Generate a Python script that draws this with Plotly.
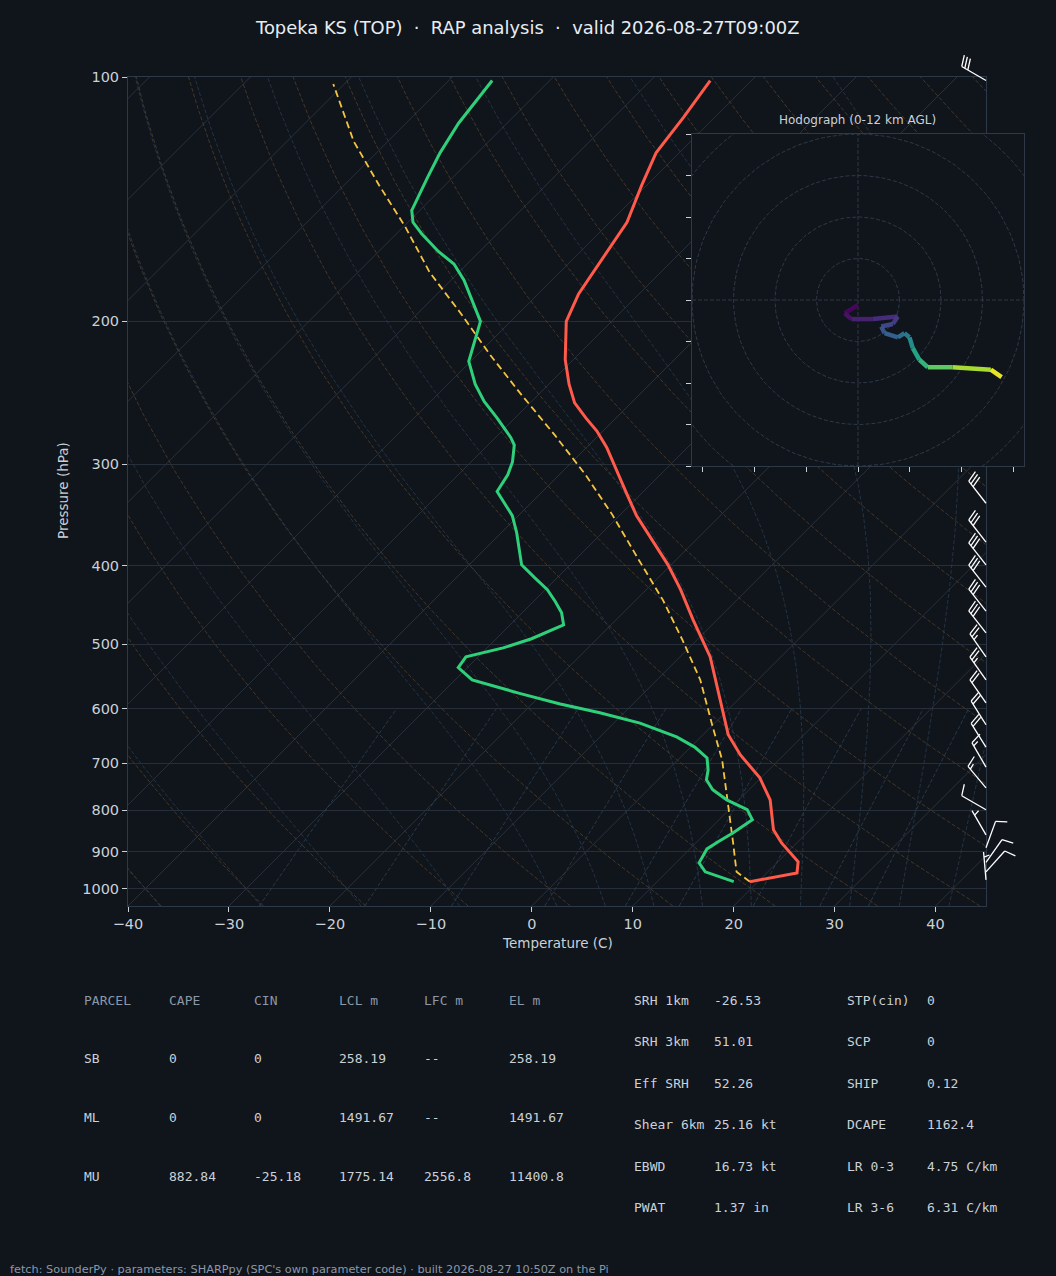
import numpy as np
import plotly.graph_objects as go
from plotly.colors import sample_colorscale

# ---------------- data ----------------
TEMP_P = [980, 956, 926, 878, 846, 777, 730, 684, 646, 569, 518, 466, 428, 399, 372, 347, 325,
          305, 286, 273, 263, 252, 239, 223, 200, 185, 172, 162, 151, 136, 124, 112, 101]
TEMP_C = [19.2, 23.0, 22.0, 18.5, 16.4, 13.1, 9.9, 5.7, 2.5, -3.0, -7.0, -12.4, -16.6, -20.3, -24.3,
          -28.3, -31.6, -34.8, -38.0, -40.6, -43.0, -45.6, -48.0, -50.8, -54.5, -56.0, -56.8, -57.5,
          -58.3, -60.5, -62.3, -63.1, -64.1]

DEW_P = [980, 953, 929, 913, 893, 875, 853, 822, 799, 777, 755, 734, 714, 690, 669, 650, 625, 607,
         592, 574, 553, 534, 518, 505, 492, 473, 457, 443, 428, 414, 399, 364, 347, 324, 309, 298,
         284, 278, 263, 251, 239, 224, 211, 200, 178, 170, 164, 156, 151, 146, 133, 124, 114, 101]
DEW_C = [17.6, 13.8, 12.3, 12.0, 11.7, 12.1, 12.7, 13.3, 11.8, 8.8, 6.4, 4.8, 4.0, 2.7, 0.4, -2.4,
         -7.4, -12.4, -17.2, -22.4, -28.3, -30.9, -31.2, -28.4, -26.5, -24.7, -26.1, -27.8, -29.8,
         -32.2, -34.8, -38.5, -40.6, -44.5, -45.1, -45.9, -47.4, -48.5, -51.8, -54.7, -57.3, -60.2,
         -61.7, -63.0, -68.7, -71.3, -74.1, -77.5, -79.5, -80.8, -82.5, -83.7, -84.8, -85.7]

PARCEL_P = [980, 953, 878, 777, 694, 632, 553, 494, 441, 394, 346, 309, 276, 245, 220, 195, 174,
            153, 136, 120, 102]
PARCEL_C = [19.2, 16.9, 13.7, 8.9, 4.4, 0.2, -5.7, -11.4, -17.3, -23.6, -30.8, -37.4, -44.4, -52.0,
            -58.7, -65.9, -72.9, -79.8, -86.5, -93.4, -101.1]

HODO_Z = [0, 0.4, 0.8, 1.3, 1.8, 2.3, 2.8, 3.3, 4.0, 4.5, 5.0, 6.6, 7.4, 8.4, 9.6, 11.2, 12.0]
HODO_U = [0, -3.2, -1.6, 3.6, 9.6, 8.4, 5.6, 6.4, 9.6, 11.2, 12.4, 13.2, 14.8, 16.8, 22.8, 32.0, 34.6]
HODO_V = [-1.2, -3.2, -4.6, -4.6, -4.0, -5.8, -6.4, -8.0, -9.0, -8.0, -9.0, -11.6, -14.4, -16.2,
          -16.2, -16.8, -18.6]

BARB_P = [101, 335, 374, 399, 425, 455, 484, 518, 553, 590, 628, 669, 708, 751, 799, 858, 890, 928, 953, 975]
BARB_DIR = [300, 322, 322, 322, 322, 322, 322, 325, 325, 325, 328, 328, 330, 320, 300, 330, 20, 35, 42, 355]
BARB_SPD = [30, 30, 30, 30, 30, 30, 30, 25, 25, 20, 20, 20, 15, 15, 10, 5, 10, 10, 10, 5]

X_TICKS = [-40, -30, -20, -10, 0, 10, 20, 30, 40]
P_TICKS = [100, 200, 300, 400, 500, 600, 700, 800, 900, 1000]

TITLE = "Topeka KS (TOP) \u00a0\u00b7\u00a0 RAP analysis \u00a0\u00b7\u00a0 valid 2026-08-27T09:00Z"
HODO_TITLE = "Hodograph (0-12 km AGL)"
FOOTER = "fetch: SounderPy \u00b7 parameters: SHARPpy (SPC's own parameter code) \u00b7 built 2026-08-27 10:50Z on the Pi"

PARCEL_HEAD = ["PARCEL", "CAPE", "CIN", "LCL m", "LFC m", "EL m"]
PARCEL_ROWS = [["SB", "0", "0", "258.19", "--", "258.19"],
               ["ML", "0", "0", "1491.67", "--", "1491.67"],
               ["MU", "882.84", "-25.18", "1775.14", "2556.8", "11400.8"]]
PARAM_L_NAMES = ["SRH 1km", "SRH 3km", "Eff SRH", "Shear 6km", "EBWD", "PWAT"]
PARAM_L_VALS = ["-26.53", "51.01", "52.26", "25.16 kt", "16.73 kt", "1.37 in"]
PARAM_R_NAMES = ["STP(cin)", "SCP", "SHIP", "DCAPE", "LR 0-3", "LR 3-6"]
PARAM_R_VALS = ["0", "0", "0.12", "1162.4", "4.75 C/km", "6.31 C/km"]

# ---------------- layout constants ----------------
W, H = 1056, 1276
L_PX, R_PX, T_PX, B_PX = 128, 986, 77, 906
XMIN, XMAX = -40, 45
P_BOT, P_TOP = 1050.0, 100.0
PX_PER_C = (R_PX - L_PX) / (XMAX - XMIN)
PX_PER_DEC = (B_PX - T_PX) / np.log10(P_BOT / P_TOP)
SKEW = PX_PER_DEC / PX_PER_C

BG = "#10141b"
FRAME = "#2e3947"
GRID = "#262e39"
TXT = "#c9d1d9"
HEAD = "#8b98a8"
BGDASH = "4px,2px"


def skx(t, p):
    return np.asarray(t, float) + SKEW * np.log10(P_BOT / np.asarray(p, float))


def px_x(px):
    return px / W


def px_y(py):
    return 1 - py / H


fig = go.Figure()


def add_multiline(xs_list, ys_list, color, width, dash):
    xs, ys = [], []
    for xx, yy in zip(xs_list, ys_list):
        xs += list(xx) + [None]
        ys += list(yy) + [None]
    fig.add_trace(go.Scatter(x=xs, y=ys, mode="lines", line=dict(color=color, width=width, dash=dash),
                             hoverinfo="skip", showlegend=False, xaxis="x", yaxis="y"))


# isotherms
iso_x, iso_y = [], []
for t0 in range(-140, 50, 10):
    iso_x.append(skx([t0, t0], [P_BOT, P_TOP]))
    iso_y.append([P_BOT, P_TOP])
add_multiline(iso_x, iso_y, "#2a313b", 1, "solid")

# dry adiabats
pg = np.geomspace(P_BOT, P_TOP, 80)
dx, dy = [], []
for th in range(-40, 260, 10):
    t = (th + 273.15) * (pg / 1000.0) ** 0.2857 - 273.15
    dx.append(skx(t, pg))
    dy.append(pg)
add_multiline(dx, dy, "#4b3d2a", 0.85, BGDASH)

# moist adiabats
Rd, Cp, Lv, EPS = 287.04, 1005.7, 2.501e6, 0.622


def dTdp(T, p):
    es = 6.112 * np.exp(17.67 * (T - 273.15) / (T - 29.65))
    rs = EPS * es / (p - es)
    return (Rd * T + Lv * rs) / (Cp + Lv * Lv * rs * EPS / (Rd * T * T)) / p


def integrate(t0k, plev):
    out = [t0k]
    for i in range(1, len(plev)):
        T = out[-1]
        p = plev[i - 1]
        h = plev[i] - p
        k1 = dTdp(T, p)
        k2 = dTdp(T + 0.5 * h * k1, p + 0.5 * h)
        k3 = dTdp(T + 0.5 * h * k2, p + 0.5 * h)
        k4 = dTdp(T + h * k3, p + h)
        out.append(T + h * (k1 + 2 * k2 + 2 * k3 + k4) / 6)
    return np.array(out)


mx, my = [], []
p_up = np.arange(1000.0, 99.0, -5.0)
p_dn = np.arange(1000.0, 1051.0, 5.0)
for t0 in [-40, -30, -20, -10] + list(range(0, 50, 5)):
    tu = integrate(t0 + 273.15, p_up)
    td = integrate(t0 + 273.15, p_dn)
    pp = np.concatenate([p_dn[::-1], p_up[1:]])
    tt = np.concatenate([td[::-1], tu[1:]]) - 273.15
    mx.append(skx(tt, pp))
    my.append(pp)
add_multiline(mx, my, "#27394a", 0.85, BGDASH)

# mixing ratio lines
pm = np.linspace(P_BOT, 600, 20)
wx, wy = [], []
for w in [0.4, 1, 2, 4, 7, 10, 16, 24, 32]:
    e = (w / 1000.0) * pm / (EPS + w / 1000.0)
    lg = np.log(e / 6.112)
    tdw = 243.5 * lg / (17.67 - lg)
    wx.append(skx(tdw, pm))
    wy.append(pm)
add_multiline(wx, wy, "#2b3f50", 0.85, BGDASH)

# profiles
fig.add_trace(go.Scatter(x=skx(PARCEL_C, PARCEL_P), y=PARCEL_P, mode="lines",
                         line=dict(color="#f5c542", width=1.8, dash="7px,4px"), hoverinfo="skip",
                         showlegend=False))
fig.add_trace(go.Scatter(x=skx(TEMP_C, TEMP_P), y=TEMP_P, mode="lines",
                         line=dict(color="#ff5a4a", width=3), hoverinfo="skip", showlegend=False))
fig.add_trace(go.Scatter(x=skx(DEW_C, DEW_P), y=DEW_P, mode="lines",
                         line=dict(color="#2fd07a", width=3), hoverinfo="skip", showlegend=False))

# ---------------- hodograph (x2/y2) ----------------
ang = np.linspace(0, 2 * np.pi, 181)
cx, cy = [], []
for r in [10, 20, 30, 40, 50]:
    cx += list(r * np.cos(ang)) + [None]
    cy += list(r * np.sin(ang)) + [None]
fig.add_trace(go.Scatter(x=cx, y=cy, mode="lines", line=dict(color="#2e3947", width=1, dash=BGDASH),
                         hoverinfo="skip", showlegend=False, xaxis="x2", yaxis="y2"))
fig.add_trace(go.Scatter(x=[-40, 40, None, 0, 0], y=[0, 0, None, -40, 40], mode="lines",
                         line=dict(color="#2e3947", width=1, dash=BGDASH),
                         hoverinfo="skip", showlegend=False, xaxis="x2", yaxis="y2"))
zmax = max(HODO_Z)
for i in range(len(HODO_U) - 1):
    c = sample_colorscale("Viridis", [(HODO_Z[i] + HODO_Z[i + 1]) / 2 / zmax])[0]
    fig.add_trace(go.Scatter(x=HODO_U[i:i + 2], y=HODO_V[i:i + 2], mode="lines",
                             line=dict(color=c, width=4.5), hoverinfo="skip", showlegend=False,
                             xaxis="x2", yaxis="y2"))

# ---------------- wind barbs (x3/y3) ----------------
BL = 28.0
FH, FW, SP = 0.4 * BL, 0.25 * BL, 0.125 * BL
bx, by = [], []


def to_data(p0, ox, oy):
    return XMAX + ox / PX_PER_C, p0 * 10 ** (-oy / PX_PER_DEC)


for p0, d, s in zip(BARB_P, BARB_DIR, BARB_SPD):
    r = np.deg2rad(d)
    sv = np.array([np.sin(r), np.cos(r)])
    fv = np.array([np.cos(r), -np.sin(r)])
    spd = 5 * round(s / 5)
    nfull = (spd % 50) // 10
    half = (spd % 10) >= 5
    segs = [(np.zeros(2), BL * sv)]
    off = BL
    for k in range(int(nfull)):
        root = off * sv
        segs.append((root, root + FH * fv + (FW / 2) * sv))
        off -= SP
    if half:
        if off == BL:
            off -= 1.5 * SP
        root = off * sv
        segs.append((root, root + (FH / 2) * fv + (FW / 4) * sv))
    for a, b in segs:
        xa, ya = to_data(p0, a[0], a[1])
        xb, yb = to_data(p0, b[0], b[1])
        bx += [xa, xb, None]
        by += [ya, yb, None]
fig.add_trace(go.Scatter(x=bx, y=by, mode="lines", line=dict(color="#ffffff", width=1.3),
                         hoverinfo="skip", showlegend=False, xaxis="x3", yaxis="y3"))

# ---------------- layout ----------------
HX0, HX1, HY0, HY1 = 692, 1024, 134, 466
BARB_TOP_PX = 40
tick_font = dict(family="DejaVu Sans", size=14.5, color=TXT)

fig.update_layout(
    width=W, height=H, margin=dict(l=0, r=0, t=0, b=0, pad=0), autosize=False,
    paper_bgcolor=BG, plot_bgcolor="rgba(0,0,0,0)", showlegend=False, hovermode=False,
    xaxis=dict(domain=[px_x(L_PX), px_x(R_PX)], range=[XMIN, XMAX], tickvals=X_TICKS,
               ticktext=[("\u2212" + str(-v)) if v < 0 else str(v) for v in X_TICKS],
               ticks="outside", ticklen=5, tickcolor=TXT, tickfont=tick_font, automargin=False,
               showline=True, linecolor=FRAME, linewidth=1, mirror=True,
               showgrid=False, zeroline=False, fixedrange=True),
    yaxis=dict(domain=[px_y(B_PX), px_y(T_PX)], type="log", automargin=False,
               range=[np.log10(P_BOT), np.log10(P_TOP)], tickvals=P_TICKS,
               ticktext=[str(v) for v in P_TICKS], ticks="outside", ticklen=5, tickcolor=TXT,
               tickfont=tick_font, showline=True, linecolor=FRAME, linewidth=1, mirror=True,
               showgrid=True, gridcolor=GRID, gridwidth=1, zeroline=False, fixedrange=True),
    xaxis2=dict(domain=[px_x(HX0), px_x(HX1)], range=[-40, 40], anchor="y2", automargin=False,
                tickvals=[-37.5, -25, -12.5, 0, 12.5, 25, 37.5], showticklabels=False,
                ticks="outside", ticklen=5, tickcolor=TXT, showline=True, linecolor=FRAME,
                mirror=True, showgrid=False, zeroline=False, fixedrange=True),
    yaxis2=dict(domain=[px_y(HY1), px_y(HY0)], range=[-40, 40], anchor="x2", automargin=False,
                tickvals=list(range(-40, 41, 10)), showticklabels=False,
                ticks="outside", ticklen=5, tickcolor=TXT, showline=True, linecolor=FRAME,
                mirror=True, showgrid=False, zeroline=False, fixedrange=True),
    xaxis3=dict(domain=[px_x(L_PX), 1.0], range=[XMIN, XMIN + (W - L_PX) / PX_PER_C],
                anchor="y3", visible=False, fixedrange=True, automargin=False),
    yaxis3=dict(domain=[px_y(B_PX), px_y(BARB_TOP_PX)], type="log", anchor="x3",
                range=[np.log10(P_BOT), np.log10(P_BOT) - (B_PX - BARB_TOP_PX) / PX_PER_DEC],
                visible=False, fixedrange=True, automargin=False),
)

# opaque background of the hodograph inset (hides the skew-T below it)
fig.add_shape(type="rect", xref="x2", yref="y2", x0=-40, x1=40, y0=-40, y1=40,
              fillcolor=BG, line=dict(width=0), layer="below")

ann = []


def txt(x, y, s, size, color, family="DejaVu Sans", xanchor="left", angle=0):
    ann.append(dict(x=px_x(x), y=px_y(y), xref="paper", yref="paper", text=s, showarrow=False,
                    xanchor=xanchor, yanchor="middle", textangle=angle, borderpad=0,
                    font=dict(family=family, size=size, color=color)))


txt(527, 27, TITLE, 17.9, "#e6edf3", xanchor="center")
txt(857, 120, HODO_TITLE, 12, TXT, xanchor="center")
txt(557, 943, "Temperature (C)", 13.5, TXT, xanchor="center")
txt(63, 491, "Pressure (hPa)", 13.5, TXT, xanchor="center", angle=-90)

MONO = "DejaVu Sans Mono"
col_x = [83, 168, 253, 338, 423, 508]
row_y = [1000, 1058, 1117, 1176]
for cxp, h in zip(col_x, PARCEL_HEAD):
    txt(cxp, row_y[0], h, 13, HEAD, MONO)
for ry, row in zip(row_y[1:], PARCEL_ROWS):
    for cxp, v in zip(col_x, row):
        txt(cxp, ry, v, 13, TXT, MONO)

prow_y = [1000, 1041, 1083, 1124, 1166, 1207]
for ry, a, b, c, d in zip(prow_y, PARAM_L_NAMES, PARAM_L_VALS, PARAM_R_NAMES, PARAM_R_VALS):
    txt(633, ry, a, 13, TXT, MONO)
    txt(713, ry, b, 13, TXT, MONO)
    txt(846, ry, c, 13, TXT, MONO)
    txt(926, ry, d, 13, TXT, MONO)

txt(9, 1269, FOOTER, 11.3, HEAD)
fig.update_layout(annotations=ann)

fig.write_html("out.html", config={"displayModeBar": False},
               post_script="document.body.style.margin='0';")
